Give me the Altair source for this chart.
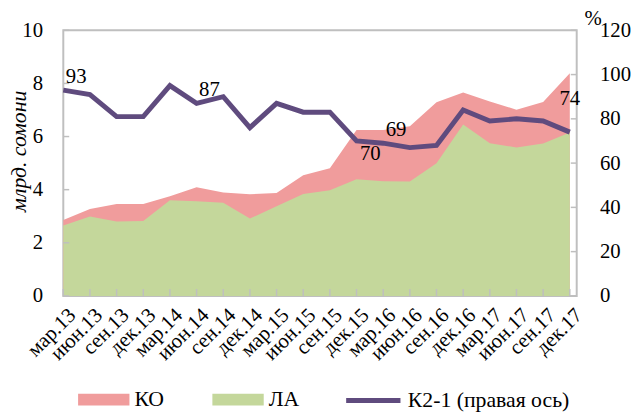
import altair as alt
import pandas as pd

periods = ["мар.13", "июн.13", "сен.13", "дек.13", "мар.14", "июн.14", "сен.14", "дек.14",
           "мар.15", "июн.15", "сен.15", "дек.15", "мар.16", "июн.16", "сен.16", "дек.16",
           "мар.17", "июн.17", "сен.17", "дек.17"]
ko = [2.86, 3.27, 3.46, 3.46, 3.75, 4.09, 3.89, 3.83, 3.87, 4.54, 4.81, 6.25, 6.25, 6.39,
      7.29, 7.66, 7.32, 7.01, 7.30, 8.38]
la = [2.65, 2.99, 2.80, 2.82, 3.60, 3.56, 3.51, 2.91, 3.38, 3.84, 3.98, 4.39, 4.32, 4.31,
      4.99, 6.45, 5.75, 5.59, 5.74, 6.15]
k21 = [93, 91, 81, 81, 95, 87, 90, 76, 87, 83, 83, 70, 69, 67, 68, 84, 79, 80, 79, 74]

labels_above = ["мар.13", "июн.14", "мар.16"]
labels_below = ["дек.15"]
labels_end = ["дек.17"]

left_ticks = [0, 2, 4, 6, 8, 10]
right_ticks = [0, 20, 40, 60, 80, 100, 120]

series_ko = "КО"
series_la = "ЛА"
series_k = "К2-1 (правая ось)"

PINK = "#F09C9C"
GREEN = "#C4D79B"
PURPLE = "#5F4B7E"
GREY = "#BFBFBF"
FONT = "Liberation Serif"

area_df = pd.DataFrame(
    [{"period": p, "series": series_ko, "value": v} for p, v in zip(periods, ko)]
    + [{"period": p, "series": series_la, "value": v} for p, v in zip(periods, la)]
)
line_df = pd.DataFrame({"period": periods, "k21": k21, "series": series_k})
lt_df = pd.DataFrame({"v": left_ticks})
rt_df = pd.DataFrame({"v": right_ticks})
bt_df = pd.DataFrame({"period": periods})

x_enc = alt.X(
    "period:O", sort=periods,
    scale=alt.Scale(type="point", range=[0, 513], padding=0),
    axis=alt.Axis(domain=False, ticks=False, grid=False, title=None,
                  labelAngle=-45, labelAlign="right", labelBaseline="middle",
                  labelPadding=16, labelOffset=9, labelFont=FONT, labelFontSize=21,
                  labelColor="black", labelOverlap=False),
)

left_axis = alt.Axis(orient="left", values=left_ticks, domain=False, ticks=False,
                     grid=False, labelPadding=21, labelFont=FONT, labelFontSize=21,
                     labelColor="black", title="млрд. сомони", titleFont=FONT,
                     titleFontSize=22, titleFontStyle="italic", titleFontWeight="normal",
                     titleColor="black", titleAngle=270, titleX=-45, titleY=122,
                     titleAlign="center", titleBaseline="middle")
left_scale = alt.Scale(domain=[0, 10], nice=False)

right_axis = alt.Axis(orient="right", values=right_ticks, domain=False, ticks=False,
                      grid=False, labelPadding=23, labelFont=FONT, labelFontSize=21,
                      labelColor="black", title="%", titleFont=FONT, titleFontSize=21,
                      titleFontWeight="normal", titleColor="black", titleAngle=0,
                      titleX=16, titleY=-12, titleAlign="center", titleBaseline="middle")
right_scale = alt.Scale(domain=[0, 120], nice=False)

fill_enc = alt.Fill(
    "series:N",
    scale=alt.Scale(domain=[series_ko, series_la], range=[PINK, GREEN]),
    legend=alt.Legend(orient="none", legendX=15, legendY=348, direction="horizontal",
                      columns=2, columnPadding=48, title=None,
                      symbolType="M-1,-0.23H1V0.23H-1Z", symbolSize=2704,
                      symbolStrokeWidth=0, symbolOpacity=1, labelFont=FONT,
                      labelFontSize=22, labelColor="black", labelOffset=5,
                      labelLimit=300),
)

base_area = alt.Chart(area_df)
pink = base_area.transform_filter(alt.datum.series == series_ko).mark_area(opacity=1).encode(
    x=x_enc, y=alt.Y("value:Q", scale=left_scale, axis=left_axis, stack=None), fill=fill_enc)
green = base_area.transform_filter(alt.datum.series == series_la).mark_area(opacity=1).encode(
    x=x_enc, y=alt.Y("value:Q", scale=left_scale, axis=left_axis, stack=None), fill=fill_enc)

lticks = alt.Chart(lt_df).mark_rule(color=GREY, strokeWidth=1.5).encode(
    y=alt.Y("v:Q", scale=left_scale, axis=left_axis), x=alt.value(0), x2=alt.value(6))
bticks = alt.Chart(bt_df).mark_rule(color=GREY, strokeWidth=1.5).encode(
    x=x_enc, y=alt.value(269), y2=alt.value(262))

left = alt.layer(pink, green, lticks, bticks)

line = alt.Chart(line_df).mark_line(strokeWidth=5).encode(
    x=x_enc,
    y=alt.Y("k21:Q", scale=right_scale, axis=right_axis),
    stroke=alt.Stroke(
        "series:N",
        scale=alt.Scale(domain=[series_k], range=[PURPLE]),
        legend=alt.Legend(orient="none", legendX=284, legendY=345, title=None,
                          symbolType="M-1,0H1", symbolSize=3025, symbolStrokeWidth=5,
                          labelFont=FONT, labelFontSize=22, labelColor="black",
                          labelOffset=5, labelLimit=300),
    ),
)

def text_layer(names, **kw):
    return alt.Chart(line_df).transform_filter(
        alt.FieldOneOfPredicate(field="period", oneOf=names)
    ).mark_text(font=FONT, fontSize=21, color="black", **kw).encode(
        x=x_enc, y=alt.Y("k21:Q", scale=right_scale, axis=right_axis),
        text=alt.Text("k21:Q"))

t_above = text_layer(labels_above, baseline="bottom", dx=13, dy=-3)
t_below = text_layer(labels_below, baseline="top", dx=14, dy=2)
t_end = text_layer(labels_end, baseline="bottom", dx=0, dy=-23)

rticks = alt.Chart(rt_df).mark_rule(color=GREY, strokeWidth=1.5).encode(
    y=alt.Y("v:Q", scale=right_scale, axis=right_axis), x=alt.value(520), x2=alt.value(514))

right = alt.layer(line, t_above, t_below, t_end, rticks)

chart = alt.layer(left, right).resolve_scale(y="independent").properties(
    width=520, height=269,
    autosize=alt.AutoSizeParams(type="none"),
    padding={"left": 56, "top": 20, "right": 56, "bottom": 115},
).configure_view(stroke=GREY, strokeWidth=2)

chart.save("out.html", embed_options={"renderer": "svg", "actions": False})
